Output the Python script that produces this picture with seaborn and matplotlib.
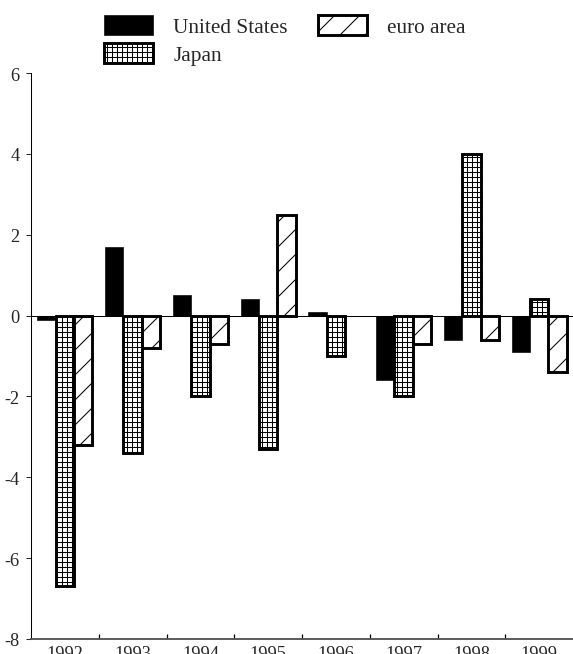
import pandas as pd
import matplotlib
matplotlib.use('Agg')
import matplotlib.pyplot as plt
import seaborn as sns

# data
years = ['1992', '1993', '1994', '1995', '1996', '1997', '1998', '1999']
series = ['United States', 'Japan', 'euro area']
us = [-0.1, 1.7, 0.5, 0.4, 0.1, -1.6, -0.6, -0.9]
japan = [-6.7, -3.4, -2.0, -3.3, -1.0, -2.0, 4.0, 0.4]
euro = [-3.2, -0.8, -0.7, 2.5, 0.0, -0.7, -0.6, -1.4]
y_ticks = [6, 4, 2, 0, -2, -4, -6, -8]

df = pd.DataFrame({
    'year': years * 3,
    'series': [s for s in series for _ in years],
    'value': us + japan + euro,
})

DPI = 150
sns.set_style('white')
plt.rcParams['font.family'] = ['Liberation Serif', 'DejaVu Serif']
plt.rcParams['axes.unicode_minus'] = False
plt.rcParams['hatch.linewidth'] = 0.5

fig = plt.figure(figsize=(573 / DPI, 655 / DPI), dpi=DPI)
ax = fig.add_axes([31 / 573, 15 / 655, 1 - 31 / 573, 566 / 655])

palette = {'United States': 'black', 'Japan': 'white', 'euro area': 'white'}
sns.barplot(data=df, x='year', y='value', hue='series', hue_order=series,
            palette=palette, width=0.81, gap=0, edgecolor='black',
            linewidth=1.4, saturation=1, errorbar=None, legend=False, ax=ax)

hatches = [None, '+++++', '//']
for cont, h in zip(ax.containers, hatches):
    for bar in cont:
        if h:
            bar.set_hatch(h)
        else:
            bar.set_linewidth(0.3)
        # a zero-height bar should not leave a thick edge on the axis line
        if bar.get_height() == 0:
            bar.set_linewidth(0)

ax.axhline(0, color='black', lw=0.5, zorder=0.5)
ax.set_xlim(-0.5, len(years) - 0.5)
ax.set_ylim(-8, 6)
ax.set_yticks(y_ticks)
ax.set_xlabel('')
ax.set_ylabel('')

ax.tick_params(axis='y', which='major', direction='out', length=2.5, width=0.5,
               labelsize=8.8, pad=3, left=True)
ax.tick_params(axis='x', which='major', length=0, labelsize=8.8, pad=3)
ax.set_xticks([i + 0.5 for i in range(len(years) - 1)], minor=True)
ax.tick_params(axis='x', which='minor', direction='in', length=2.5, width=0.6,
               bottom=True, color='black')

for side in ['top', 'right']:
    ax.spines[side].set_visible(False)
ax.spines['left'].set_linewidth(0.5)
ax.spines['left'].set_color('black')
ax.spines['bottom'].set_linewidth(0.9)
ax.spines['bottom'].set_color('#555555')

fig.legend(handles=list(ax.containers), labels=series, ncol=2,
           loc='upper left', bbox_to_anchor=(104 / 573, 1 - 16 / 655),
           frameon=False, fontsize=10.2, borderpad=0, borderaxespad=0,
           handlelength=2.3, handleheight=1.1, handletextpad=0.95,
           columnspacing=1.45, labelspacing=0.25)

fig.savefig('out.png', dpi=DPI)
